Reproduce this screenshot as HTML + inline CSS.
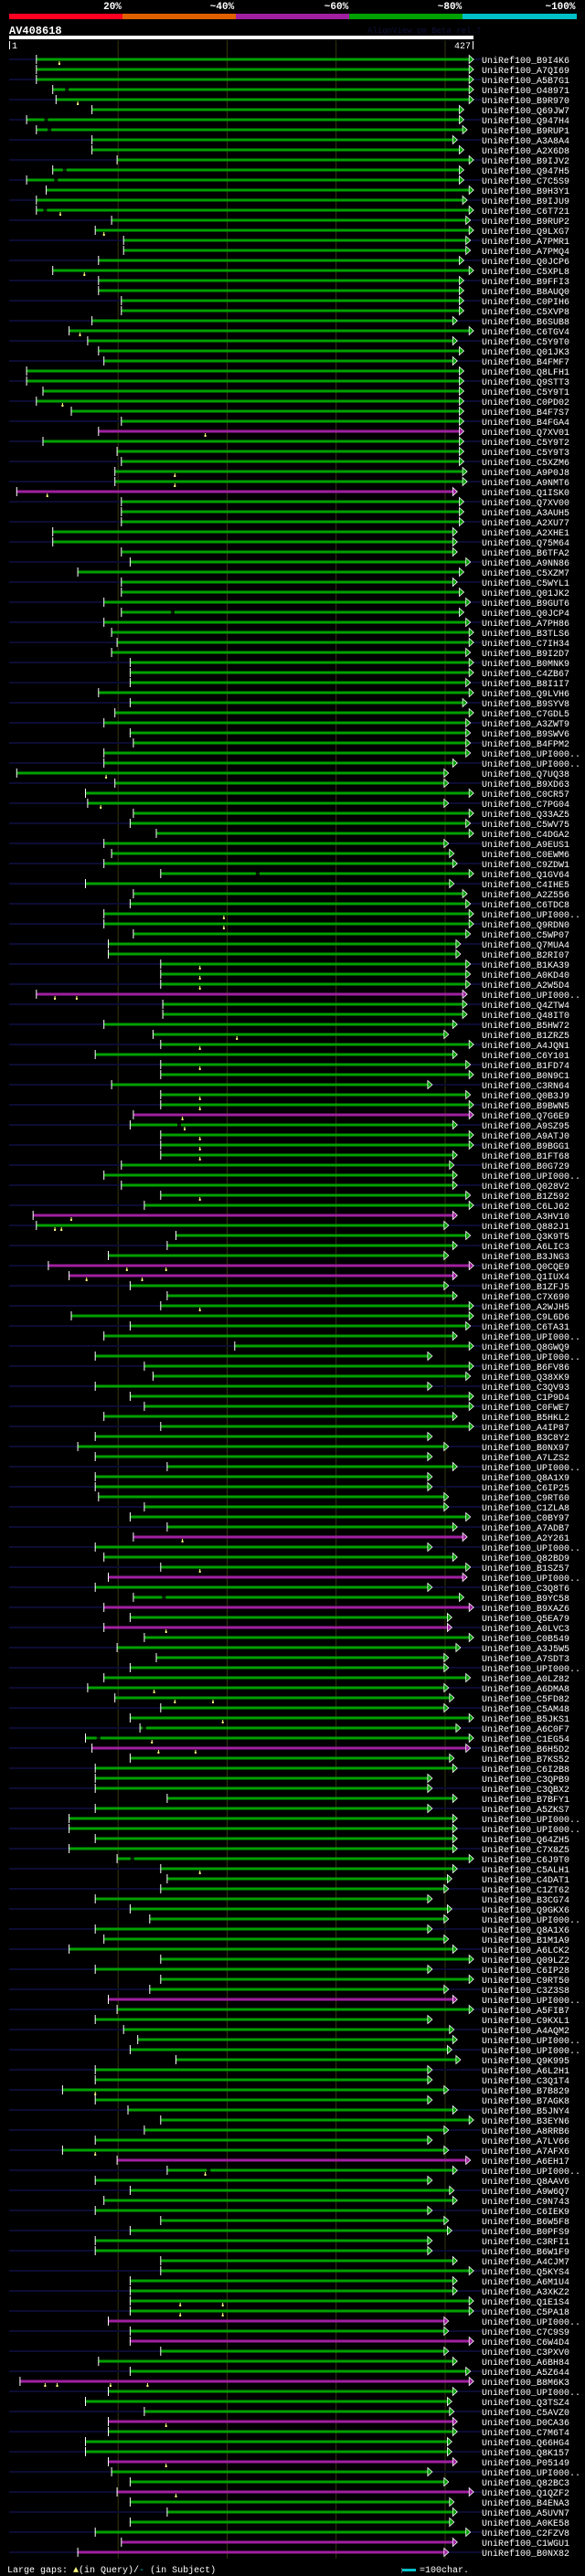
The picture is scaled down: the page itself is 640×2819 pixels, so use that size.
<!DOCTYPE html>
<html><head><meta charset="utf-8"><style>
html,body{margin:0;padding:0;background:#000;}
svg{display:block;}
text{font-family:"Liberation Mono",monospace;}
</style></head><body>
<svg id="chart" width="640" height="2819" viewBox="0 0 640 2819" xmlns="http://www.w3.org/2000/svg">
<rect x="0" y="0" width="640" height="2819" fill="#000"/>
<g>
<text x="123" y="10" fill="#fff" font-size="11" font-weight="bold" text-anchor="middle">20%</text>
<text x="243" y="10" fill="#fff" font-size="11" font-weight="bold" text-anchor="middle">~40%</text>
<text x="368" y="10" fill="#fff" font-size="11" font-weight="bold" text-anchor="middle">~60%</text>
<text x="492" y="10" fill="#fff" font-size="11" font-weight="bold" text-anchor="middle">~80%</text>
<text x="613" y="10" fill="#fff" font-size="11" font-weight="bold" text-anchor="middle">~100%</text>
<rect x="10" y="15" width="124" height="6" fill="#ff0022"/>
<rect x="134" y="15" width="124" height="6" fill="#e06000"/>
<rect x="258" y="15" width="124" height="6" fill="#a020a0"/>
<rect x="382" y="15" width="124" height="6" fill="#00a000"/>
<rect x="506" y="15" width="125" height="6" fill="#00c0c8"/>
</g>
<text x="10" y="37" fill="#fff" font-size="12" font-weight="bold">AV408618</text>
<text x="402" y="36" fill="#10103a" font-size="9">AlignView.pm Beta rel.7</text>
<rect x="10" y="39" width="508" height="4" fill="#fff"/>
<rect x="10" y="45" width="1" height="9" fill="#fff"/>
<text x="13" y="53" fill="#fff" font-size="10">1</text>
<rect x="517" y="45" width="1" height="9" fill="#fff"/>
<text x="515" y="53" fill="#fff" font-size="10" text-anchor="end">427</text>
<g id="grid"></g>
<g id="rows"></g>
<g>
<text x="8" y="2815" fill="#fff" font-size="10">Large gaps: <tspan fill="#ffff80">▲</tspan>(in Query)/<tspan fill="#00c0c8">-</tspan> (in Subject)</text>
<rect x="439" y="2810" width="1" height="6" fill="#555"/>
<rect x="440" y="2811" width="15" height="3" fill="#00c0c8"/>
<text x="459" y="2815" fill="#fff" font-size="10">=100char.</text>
</g>
</svg>
<script>
const names = ["B9I4K6","A7QI69","A5B7G1","O48971","B9R970","Q69JW7","Q947H4","B9RUP1","A3A8A4","A2X6D8","B9IJV2","Q947H5","C7C5S9","B9H3Y1","B9IJU9","C6T721","B9RUP2","Q9LXG7","A7PMR1","A7PMQ4","Q0JCP6","C5XPL8","B9FFI3","B8AUQ0","C0PIH6","C5XVP8","B6SUB8",
"C6TGV4","C5Y9T0","Q01JK3","B4FMF7","Q8LFH1","Q9STT3","C5Y9T1","C0PD02","B4F7S7","B4FGA4","Q7XV01","C5Y9T2","C5Y9T3","C5XZM6","A9P0J8","A9NMT6","Q1ISK0","Q7XV00","A3AUH5","A2XU77","A2XHE1","Q75M64","B6TFA2","A9NN86","C5XZM7","C5WYL1","Q01JK2",
"B9GUT6","Q0JCP4","A7PH86","B3TLS6","C7IH34","B9I2D7","B0MNK9","C4ZB67","B8I1I7","Q9LVH6","B9SYV8","C7GDL5","A3ZWT9","B9SWV6","B4FPM2","UPI000..","UPI000..","Q7UQ38","B9XD63","C0CR57","C7PG04","Q33AZ5","C5WV75","C4DGA2","A9EUS1","C0EWM6","C9ZDW1",
"Q1GV64","C4IHE5","A2Z556","C6TDC8","UPI000..","Q9RDN0","C5WP07","Q7MUA4","B2RI07","B1KA39","A0KD40","A2W5D4","UPI000..","Q4ZTW4","Q48IT0","B5HW72","B1ZRZ5","A4JQN1","C6Y101","B1FD74","B0N9C1","C3RN64","Q0B3J9","B9BWN5","Q7G6E9","A9SZ95","A9ATJ0",
"B9BGG1","B1FT68","B0G729","UPI000..","Q028V2","B1Z592","C6LJ62","A3HV10","Q882J1","Q3K9T5","A6LIC3","B3JNG3","Q0CQE9","Q1IUX4","B1ZFJ5","C7X690","A2WJH5","C9L6D6","C6TA31","UPI000..","Q8GWQ9","UPI000..","B6FV86","Q38XK9","C3QV93","C1P9D4","C0FWE7",
"B5HKL2","A4IP87","B3C8Y2","B0NX97","A7LZS2","UPI000..","Q8A1X9","C6IP25","C9RT60","C1ZLA8","C0BY97","A7ADB7","A2Y261","UPI000..","Q82BD9","B1SZ57","UPI000..","C3Q8T6","B9YC58","B9XAZ6","Q5EA79","A0LVC3","C0B549","A3J5W5","A7SDT3","UPI000..","A0LZ82",
"A6DMA8","C5FD82","C5AM48","B5JKS1","A6C0F7","C1EG54","B6H5D2","B7KS52","C6I2B8","C3QPB9","C3QBX2","B7BFY1","A5ZKS7","UPI000..","UPI000..","Q64ZH5","C7X8Z5","C6J9T0","C5ALH1","C4DAT1","C1ZT62","B3CG74","Q9GKX6","UPI000..","Q8A1X6","B1M1A9","A6LCK2",
"Q09LZ2","C6IP28","C9RT50","C3Z3S8","UPI000..","A5FIB7","C9KXL1","A4AQM2","UPI000..","UPI000..","Q9K995","A6L2H1","C3Q1T4","B7B829","B7AGK8","B5JNY4","B3EYN6","A8RRB6","A7LV66","A7AFX6","A6EH17","UPI000..","Q8AAV6","A9W6Q7","C9N743","C6IEK9","B6W5F8",
"B0PFS9","C3RFI1","B6W1F9","A4CJM7","Q5KYS4","A6M1U4","A3XKZ2","Q1E1S4","C5PA18","UPI000..","C7C9S9","C6W4D4","C3PXV0","A6BH84","A5Z644","B8M6K3","UPI000..","Q3TSZ4","C5AVZ0","D0CA36","C7M6T4","Q66HG4","Q8K157","P05149","UPI000..","Q82BC3","Q1QZF2",
"B4ENA3","A5UVN7","A0KE58","C2FZV8","C1WGU1","B0NX82"];
const starts = [26,26,26,41,44,77,17,26,77,77,100,41,17,35,26,26,95,80,106,106,83,41,83,83,104,104,77,
56,73,83,88,17,17,32,26,58,104,83,32,100,104,98,98,8,104,104,104,41,41,104,112,64,104,104,
88,104,88,95,100,95,112,112,112,83,112,98,88,112,115,88,88,8,98,71,73,115,112,136,88,95,88,
140,71,115,112,88,88,115,92,92,140,140,140,26,142,142,88,133,140,80,140,140,95,140,140,115,112,140,
140,140,104,88,104,140,125,23,26,154,146,92,37,56,112,146,140,58,112,88,208,80,125,133,80,112,125,
88,140,80,64,80,146,80,80,83,125,112,146,115,80,88,140,92,80,115,88,112,88,125,100,136,112,88,
73,98,140,112,121,71,77,112,80,80,80,146,80,56,56,80,56,100,140,146,140,80,112,130,80,88,56,
140,80,140,130,92,100,80,106,119,112,154,80,80,50,80,110,140,125,80,50,100,146,80,112,88,80,140,
112,80,80,140,140,112,112,112,112,92,112,112,140,83,112,11,92,71,125,92,92,71,71,92,95,112,100,
112,146,112,80,104,64];
const ends = [423,423,423,423,423,414,414,417,408,414,423,414,414,423,417,423,420,423,420,420,414,423,414,414,414,414,408,
423,408,414,408,414,414,414,414,414,414,414,414,414,414,417,417,408,414,414,414,408,408,408,420,414,408,414,
420,414,420,423,423,420,423,423,420,423,417,423,420,420,420,420,408,400,400,423,400,423,420,423,400,405,408,
423,405,417,420,423,423,420,411,411,420,420,420,417,417,417,408,400,423,408,420,423,385,420,423,423,408,423,
423,408,405,408,408,420,423,408,400,420,408,400,423,408,400,408,423,423,420,408,423,385,423,420,385,423,423,
408,423,385,400,385,408,385,385,400,400,420,408,417,385,408,420,417,385,414,423,403,403,423,411,400,400,420,
400,405,400,423,411,423,420,405,408,385,385,408,385,408,408,408,408,423,408,403,400,385,403,400,385,400,408,
423,385,423,400,408,423,385,405,408,403,411,385,385,400,385,408,423,400,385,400,420,408,385,405,408,385,400,
403,385,385,408,423,408,408,423,423,400,400,423,400,408,420,423,408,403,405,408,408,403,403,408,385,400,423,
405,408,405,420,408,400];
const purpleRows = [38,44,94,106,116,121,122,148,152,155,157,169,194,210,226,228,232,236,240,243,248,249];
const queryGaps = {1:[47],5:[64],16:[48],18:[88],22:[70],28:[66],35:[50],38:[181],42:[153],43:[153],44:[36],72:[90],75:[85],86:[198],87:[198],91:[176],92:[176],93:[176],94:[43,63],98:[210],99:[176],101:[176],104:[176],105:[176],106:[160],107:[162],108:[176],109:[176],110:[176],114:[176],116:[58],117:[43,49],121:[109,145],122:[72,123],125:[176],148:[160],151:[176],157:[145],163:[134],164:[153,188],166:[197],168:[132],169:[138,172],181:[176],203:[80],209:[80],211:[181],224:[158,197],225:[158,197],232:[34,45,94,128],236:[145],240:[145],243:[154]};
const subjectGaps = {4:[54],7:[35],8:[38],12:[52],13:[44],16:[34],56:[151],82:[229],107:[157],154:[143],167:[125],168:[83],180:[114],211:[184]};
const gridTicks = [100,200,300,400];

const NS = "http://www.w3.org/2000/svg";
const QLEN = 427, X0 = 10, X1 = 518;
function xScale(r){ return X0 + (r-1)*(X1-X0)/(QLEN-1); }
function yRow(i){ return 65 + 11*i; }
function mk(tag, attrs, parent){ const e=document.createElementNS(NS,tag); for(const k in attrs) e.setAttribute(k,attrs[k]); parent.appendChild(e); return e; }

const grid = document.getElementById('grid');
gridTicks.forEach(t=>{
  const l = mk('rect',{x:(xScale(t+1)-0.5).toFixed(1),y:44,width:1,height:2756,fill:'#35350c'},grid);
  
  
});

const rowsG = document.getElementById('rows');
names.forEach((nm,i)=>{
  const n=i+1, y=yRow(i);
  const g = mk('g',{},rowsG);
  
  
  if(n%2===1){
    const s = mk('rect',{x:10,y:y-1,width:517,height:2,fill:'#0c0c34'},g);
    
    
  }
  const col = purpleRows.includes(n) ? '#a020a0' : '#00a000';
  const xs = xScale(starts[i]), xe = xScale(ends[i]);
  const bar = mk('rect',{x:xs.toFixed(1),y:y-1.5,width:(xe-xs).toFixed(1),height:3,fill:col},g);
  
  
  (subjectGaps[n]||[]).forEach(r=>{
    const gx=xScale(r);
    const sg = mk('rect',{x:(gx-2).toFixed(1),y:y-1.5,width:4,height:3,fill:'#000'},g);
    
    
    mk('rect',{x:(gx-2).toFixed(1),y:y-0.5,width:4,height:1,fill:'#005000'},g);
  });
  const tick = mk('rect',{x:(xs-0.5).toFixed(1),y:y-5,width:1,height:10,fill:'#fff'},g);
  
  
  const arrow = mk('polygon',{points:`${xe.toFixed(1)},${y-4.5} ${(xe+5).toFixed(1)},${y} ${xe.toFixed(1)},${y+4.5}`,fill:col,stroke:'#fff','stroke-width':0.8},g);
  
  
  (queryGaps[n]||[]).forEach(r=>{
    const gx=xScale(r);
    const q = mk('g',{},g);
    
    
    mk('rect',{x:(gx-0.5).toFixed(1),y:y+2,width:1,height:2,fill:'#ffff80'},q);
    mk('rect',{x:(gx-1).toFixed(1),y:y+4,width:2,height:2,fill:'#ffff80'},q);
  });
  const t = mk('text',{x:527,y:y+4,fill:'#fff','font-size':10},g);
  t.textContent = 'UniRef100_'+nm;
  
  
});
</script>
</body></html>
